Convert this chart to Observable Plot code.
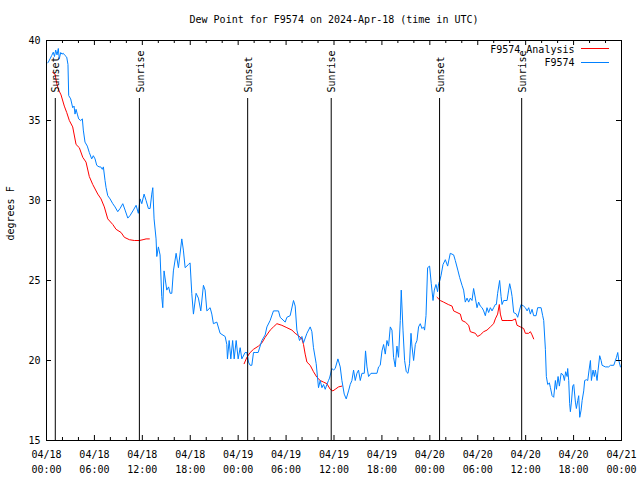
<!DOCTYPE html>
<html>
<head>
<meta charset="utf-8">
<script src="https://cdn.jsdelivr.net/npm/d3@7"></script>
<script src="https://cdn.jsdelivr.net/npm/@observablehq/plot@0.6"></script>
<style>
  html, body { margin: 0; padding: 0; background: #fff; }
  #chart { width: 640px; height: 480px; }
</style>
</head>
<body>
<div id="chart"></div>
<script>
// ---- Data (hours after 2024-04-18 00:00 UTC, dew point in °F) ----
const titleText = "Dew Point for F9574 on 2024-Apr-18 (time in UTC)";
const yLabel = "degrees F";
const seriesNames = ["F9574 Analysis", "F9574"];
const seriesColors = ["#ff0000", "#0080ff"];

const blueHours = [0.15,0.23,0.44,0.65,0.85,1.0,1.15,1.32,1.48,1.6,1.78,1.94,2.1,2.32,2.53,2.69,2.78,3.03,3.28,3.45,3.57,3.7,3.86,4.03,4.28,4.49,4.61,4.82,5.11,5.36,5.66,5.86,6.08,6.29,6.58,6.79,6.99,7.12,7.33,7.46,7.67,7.96,8.3,8.58,8.92,9.21,9.55,9.84,10.18,10.46,10.88,11.22,11.5,11.72,11.93,12.22,12.47,12.76,12.97,13.18,13.31,13.47,13.72,13.81,14.01,14.22,14.43,14.56,14.72,15.06,15.29,15.48,15.69,15.89,16.23,16.52,16.94,17.14,17.36,17.77,17.98,18.19,18.4,18.73,19.02,19.32,19.65,19.86,20.08,20.49,20.7,20.9,21.33,21.74,22.37,22.58,22.66,22.87,23.08,23.31,23.5,23.75,24.0,24.25,24.46,24.87,25.09,25.29,25.5,25.71,25.92,26.13,26.5,26.97,27.38,27.6,28.0,28.42,29.05,29.26,29.89,30.1,30.51,30.93,31.14,31.35,31.68,31.98,32.18,32.61,33.02,33.23,33.43,33.77,34.06,34.27,34.49,34.69,34.9,35.11,35.31,35.44,35.74,35.94,36.15,36.49,36.78,36.99,37.28,37.53,37.82,38.03,38.24,38.45,38.66,38.87,39.07,39.29,39.5,39.79,39.95,40.13,40.33,40.63,41.38,41.58,41.79,42.01,42.21,42.42,42.63,42.83,43.05,43.26,43.46,43.67,43.88,44.08,44.3,44.42,44.64,44.84,45.05,45.26,45.46,45.64,45.76,45.97,46.18,46.39,46.59,46.8,47.02,47.22,47.34,47.52,47.72,47.97,48.18,48.4,48.56,48.77,48.97,49.1,49.25,49.4,49.65,49.94,50.23,50.56,50.98,51.19,51.53,51.73,52.03,52.23,52.44,52.66,52.86,53.07,53.28,53.48,53.7,53.91,54.11,54.32,54.54,54.74,54.95,55.16,55.36,55.58,55.79,55.99,56.2,56.33,56.49,56.74,56.92,57.04,57.24,57.67,57.87,58.0,58.17,58.3,58.5,58.84,59.0,59.21,59.42,59.75,59.96,60.18,60.38,60.59,60.8,61.0,61.3,61.5,61.93,62.13,62.26,62.47,62.59,62.76,62.97,63.1,63.31,63.51,63.72,63.85,64.06,64.22,64.44,64.69,64.85,65.01,65.19,65.26,65.39,65.51,65.6,65.73,65.89,66.02,66.23,66.35,66.52,66.64,66.77,66.94,67.07,67.27,67.39,67.61,67.77,67.94,68.11,68.23,68.44,68.6,68.73,68.94,69.07,69.27,69.45,69.57,69.98,70.4,70.61,71.03,71.37,71.53,71.66,71.87];
const blueDew = [38.6,38.65,38.85,39.06,39.27,39.0,39.4,39.1,39.5,38.85,39.25,39.15,39.2,39.06,38.96,38.5,36.56,36.35,35.8,35.9,35.4,35.7,35.4,35.1,35.0,35.1,34.4,33.65,33.4,33.0,32.6,32.8,32.6,32.2,32.1,32.1,31.95,32.1,31.25,30.8,30.3,30.1,29.8,29.6,29.3,29.5,29.8,29.4,28.9,29.06,29.4,29.7,29.2,30.1,29.8,30.4,30.0,29.5,29.5,30.4,30.8,28.85,27.6,26.5,27.1,26.6,24.0,23.3,25.6,24.4,24.6,24.2,24.2,25.6,26.7,25.8,27.6,26.9,25.8,26.0,26.1,24.2,22.9,24.2,23.9,23.1,24.7,24.4,23.1,23.3,22.9,22.3,22.4,21.7,21.5,21.0,20.1,21.25,20.1,21.25,20.1,21.25,20.1,20.8,20.1,20.5,20.5,19.9,19.7,19.7,20.5,20.5,20.5,21.25,21.6,22.1,22.5,23.1,23.1,22.7,22.4,22.7,22.8,23.75,23.4,21.9,21.25,21.5,21.1,21.7,22.1,21.8,20.8,19.8,18.3,18.75,18.3,18.5,18.2,18.5,18.75,18.9,19.5,19.4,19.5,20.1,19.6,18.75,17.9,17.6,18.1,18.5,18.75,19.4,18.75,19.2,19.4,18.75,19.2,19.2,20.6,19.6,19.0,19.2,19.2,19.6,19.7,20.6,21.0,20.4,21.25,20.9,22.1,21.9,20.2,19.6,20.9,20.2,22.5,24.4,21.9,20.0,19.3,19.2,19.8,21.7,20.9,20.0,21.0,21.25,22.1,22.3,22.0,22.1,21.9,22.8,25.8,25.9,24.8,23.75,24.4,24.75,24.3,24.8,25.0,25.3,26.0,26.3,25.9,26.7,26.6,26.25,25.6,25.2,24.7,24.4,23.65,23.9,23.65,23.9,23.75,24.5,23.9,23.3,23.65,23.4,23.3,23.1,22.8,23.3,23.0,23.3,23.1,23.3,23.5,23.5,24.2,25.0,24.0,23.5,23.75,23.75,24.4,24.8,24.4,24.0,23.0,22.9,22.7,23.1,23.5,23.4,23.3,23.1,23.3,22.9,23.2,22.8,22.8,23.3,23.3,22.8,22.5,20.7,19.0,18.5,18.6,18.3,17.8,17.7,18.75,18.2,19.0,18.4,19.2,19.1,18.75,19.3,19.0,19.5,18.75,17.3,16.8,17.4,18.4,18.5,17.4,17.0,17.5,17.8,16.45,16.9,17.5,18.1,18.75,18.8,18.75,19.4,20.0,18.75,19.4,19.0,19.4,18.75,19.4,20.3,20.0,19.7,19.6,19.6,19.7,19.7,20.2,20.5,20.0,19.6];

// Analysis series: three separate runs (one list per run)
const analysisHours = [
  [0.78,1.07,1.28,1.53,1.82,2.23,2.53,2.86,3.28,3.7,4.11,4.54,4.95,5.36,5.79,6.42,6.83,7.24,7.67,8.3,8.71,9.34,9.75,10.38,11.0,11.63,12.09,12.47,12.88],
  [24.75,25.09,25.5,25.92,26.54,26.97,27.38,28.01,28.42,28.85,29.47,30.1,30.73,31.14,31.55,31.98,32.18,32.39,32.61,33.02,33.43,33.86,34.27,34.69,35.11,35.53,35.86,36.15,36.57,36.99],
  [48.9,49.31,49.72,50.31,50.78,50.98,51.4,51.82,52.03,52.44,52.86,53.07,53.7,53.98,54.32,54.74,55.16,55.58,55.99,56.2,56.49,56.7,56.83,57.04,57.67,58.3,58.71,58.92,59.34,59.75,59.96,60.38,60.59,60.8,61.0]
];
const analysisDew = [
  [38.0,37.9,37.3,36.9,36.6,35.9,35.5,35.0,34.6,33.5,33.3,32.7,32.4,31.5,31.0,30.4,30.1,29.6,28.85,28.5,28.2,28.0,27.7,27.55,27.5,27.5,27.55,27.6,27.6],
  [19.8,20.2,20.5,20.7,20.9,21.1,21.45,21.9,22.1,22.3,22.2,22.05,21.9,21.7,21.55,21.35,21.0,20.4,19.9,19.7,19.3,18.95,18.75,18.65,18.55,18.2,18.1,18.2,18.35,18.4],
  [23.95,23.75,23.65,23.5,23.4,23.1,23.0,22.9,22.5,22.4,22.2,21.8,21.7,21.5,21.6,21.8,21.9,22.1,22.3,22.6,22.9,23.5,22.9,22.5,22.5,22.5,22.6,22.2,22.1,22.0,21.7,21.7,21.8,21.6,21.35]
];

const sunHours = [1.1, 11.63, 25.19, 35.65, 49.22, 59.5];
const sunLabels = ["Sunset", "Sunrise", "Sunset", "Sunrise", "Sunset", "Sunrise"];

const yTicks = [15, 20, 25, 30, 35, 40];
const startUTC = Date.UTC(2024, 3, 18);
const endUTC = Date.UTC(2024, 3, 21);

// ---- Build tables ----
const toDate = h => new Date(startUTC + h * 3600000);
const blue = blueHours.map((h, i) => ({t: toDate(h), v: blueDew[i]}));
const analysis = analysisHours.flatMap((run, r) => run.map((h, i) => ({t: toDate(h), v: analysisDew[r][i], run: r})));
const sun = sunHours.map((h, i) => ({t: toDate(h), label: sunLabels[i]}));
const majorTicks = d3.utcHour.every(6).range(new Date(startUTC), new Date(endUTC + 1));
const minorTicks = d3.utcHour.every(2).range(new Date(startUTC), new Date(endUTC + 1)).filter(d => d.getUTCHours() % 6 !== 0);
const fmt = d3.utcFormat("%m/%d\n%H:%M");

const W = 640, H = 480, mL = 46, mR = 19, mT = 40, mB = 40;
const fw = W - mL - mR, fh = H - mT - mB;
const majorLen = 5, minorLen = 3;

const chart = Plot.plot({
  width: W, height: H,
  marginLeft: mL, marginRight: mR, marginTop: mT, marginBottom: mB,
  style: {fontFamily: "'DejaVu Sans Mono', monospace", fontSize: "10px", background: "#fff", color: "#000"},
  x: {type: "utc", domain: [new Date(startUTC), new Date(endUTC)], axis: null},
  y: {domain: [15, 40], axis: null},
  marks: [
    // data
    Plot.line(analysis, {x: "t", y: "v", z: "run", stroke: seriesColors[0], strokeWidth: 1}),
    Plot.line(blue, {x: "t", y: "v", stroke: seriesColors[1], strokeWidth: 1}),
    // sunrise / sunset markers
    Plot.ruleX(sun, {x: "t", insetTop: 58, stroke: "#000", strokeWidth: 1}),
    Plot.text(sun, {x: "t", text: "label", frameAnchor: "top", rotate: -90, textAnchor: "start", lineAnchor: "middle", dy: 52, dx: 1, fill: "#000"}),
    // frame
    Plot.frame({stroke: "#000", strokeWidth: 1}),
    // x ticks (bottom and top, inward)
    Plot.ruleX(majorTicks, {x: d => d, insetTop: fh - majorLen, stroke: "#000"}),
    Plot.ruleX(majorTicks, {x: d => d, insetBottom: fh - majorLen, stroke: "#000"}),
    Plot.ruleX(minorTicks, {x: d => d, insetTop: fh - minorLen, stroke: "#000"}),
    Plot.ruleX(minorTicks, {x: d => d, insetBottom: fh - minorLen, stroke: "#000"}),
    // y ticks (left and right, inward)
    Plot.ruleY(yTicks, {y: d => d, insetRight: fw - majorLen, stroke: "#000"}),
    Plot.ruleY(yTicks, {y: d => d, insetLeft: fw - majorLen, stroke: "#000"}),
    // tick labels
    Plot.text(majorTicks, {x: d => d, text: d => fmt(d), frameAnchor: "bottom", lineAnchor: "middle", dy: 20, lineHeight: 1.5, fill: "#000"}),
    Plot.text(yTicks, {y: d => d, text: d => String(d), frameAnchor: "left", textAnchor: "end", lineAnchor: "middle", dx: -6, fill: "#000"}),
    // axis label & title
    Plot.text([yLabel], {text: d => d, frameAnchor: "left", rotate: -90, lineAnchor: "middle", dx: -36, fill: "#000"}),
    Plot.text([titleText], {text: d => d, frameAnchor: "top", lineAnchor: "middle", dy: -21, fill: "#000"}),
    // legend
    Plot.text([seriesNames[0]], {text: d => d, frameAnchor: "top-right", textAnchor: "end", lineAnchor: "middle", dx: -47, dy: 9, fill: "#000"}),
    Plot.text([seriesNames[1]], {text: d => d, frameAnchor: "top-right", textAnchor: "end", lineAnchor: "middle", dx: -47, dy: 22.5, fill: "#000"}),
    Plot.ruleY([40], {y: d => d, dy: 8, insetLeft: 535, insetRight: 12, stroke: seriesColors[0]}),
    Plot.ruleY([40], {y: d => d, dy: 22, insetLeft: 535, insetRight: 12, stroke: seriesColors[1]})
  ]
});
document.getElementById("chart").appendChild(chart);
</script>
</body>
</html>
